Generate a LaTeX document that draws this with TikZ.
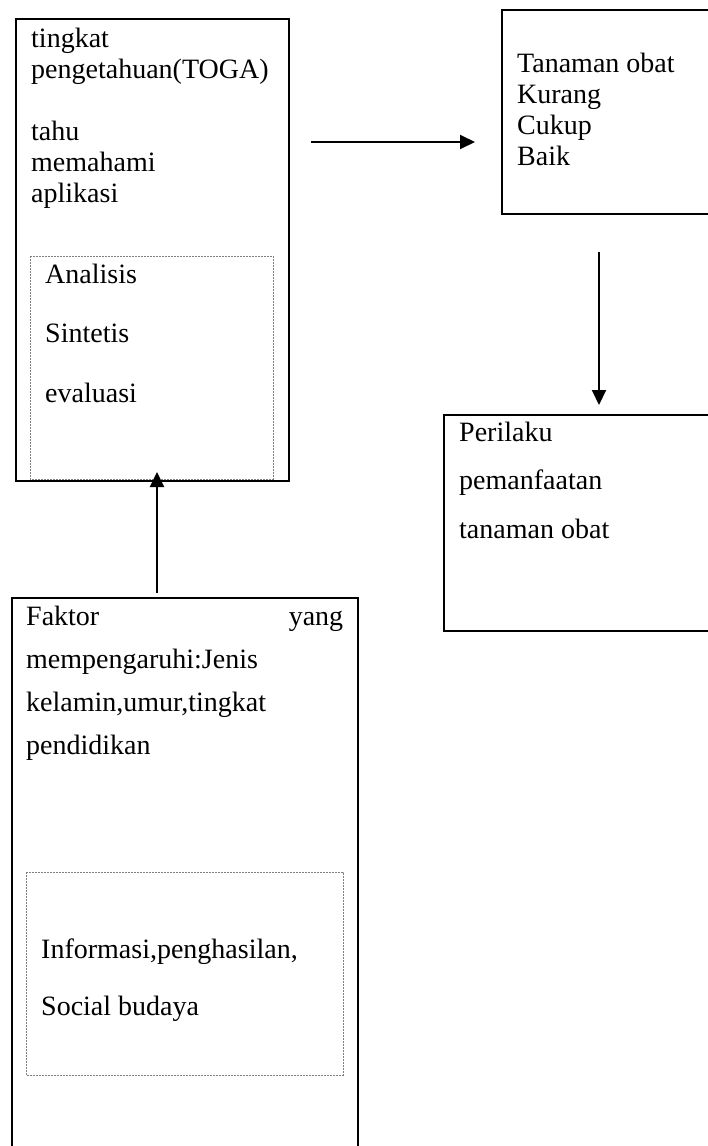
\documentclass[tikz,border=0pt]{standalone}
\usepackage{fontspec}
\setmainfont{Liberation Serif}
\usetikzlibrary{arrows.meta}

\tikzset{
	kotak/.style={draw, line width=2pt},
	garis/.style={draw=gray, line width=0.8pt, dash pattern=on 2pt off 1pt},
	teks/.style={inner sep=0pt, anchor=base west, align=flush left, text width=280pt, font=\fontsize{28}{#1}\selectfont},
	panah/.style={line width=2pt, -{Triangle[length=15pt,width=14pt]}}
}

\begin{document}
\begin{tikzpicture}[x=1pt,y=-1pt]
	\path[use as bounding box, clip] (0,0) rectangle (708,1146);
	
	\draw[kotak] (16,19) rectangle (289,481);
	\draw[garis] (30,256) rectangle (273,479);
	\draw[kotak] (502,10) rectangle (720,214);
	\draw[kotak] (444,415) rectangle (720,631);
	\draw[kotak] (12,598) rectangle (358,1160);
	\draw[garis] (26,872) rectangle (343,1075);
	
	\node[teks=31] (pengetahuan) at (31,47) {tingkat\\pengetahuan(TOGA)\\[31pt]tahu\\memahami\\aplikasi};
	\node[teks=59.5] (tingkatan) at (45,283) {Analisis\\Sintetis\\evaluasi};
	\node[teks=31.3] (kategori) at (517,72) {Tanaman obat\\Kurang\\Cukup\\Baik};
	\node[teks=48.5] (perilaku) at (459,441) {Perilaku\\pemanfaatan\\tanaman obat};
	\node[teks=43.3, text width=317pt] (faktor) at (26,625) {Faktor\hfill yang\\mempengaruhi:Jenis\\kelamin,umur,tingkat\\pendidikan};
	\node[teks=57] (lainnya) at (41,958) {Informasi,penghasilan,\\Social budaya};
	
	\coordinate (a1) at (311,142);
	\coordinate (a2) at (475,142);
	\coordinate (b1) at (599,252);
	\coordinate (b2) at (599,405);
	\coordinate (c1) at (157,593);
	\coordinate (c2) at (157,472);
	
	\draw[panah] (a1) -- (a2);
	\draw[panah] (b1) -- (b2);
	\draw[panah] (c1) -- (c2);
	
\end{tikzpicture}
\end{document}
